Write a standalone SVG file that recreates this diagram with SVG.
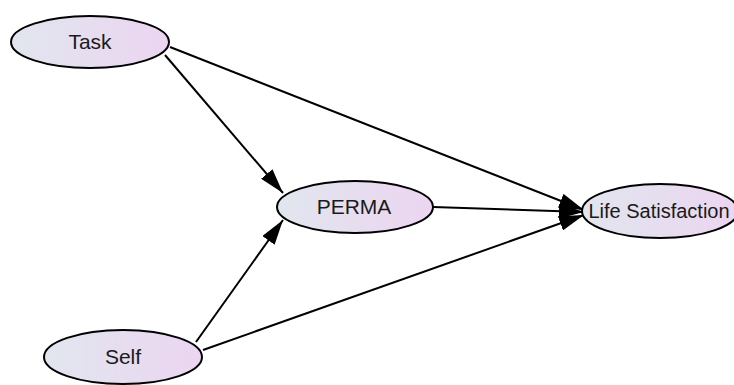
<svg xmlns="http://www.w3.org/2000/svg" width="734" height="385" viewBox="0 0 734 385">
<defs>
<linearGradient id="g" x1="0" y1="0" x2="1" y2="0">
<stop offset="0" stop-color="#e1e6ee"/>
<stop offset="1" stop-color="#ecd5f1"/>
</linearGradient>
<marker id="ah" viewBox="0 0 25 15" refX="25" refY="7.5" markerWidth="25" markerHeight="15" markerUnits="userSpaceOnUse" orient="auto">
<path d="M0,0 L25,7.5 L0,15 Z" fill="#000"/>
</marker>
</defs>
<style>
.n ellipse{fill:url(#g);stroke:#000;stroke-width:2}
.n text{font-family:"Liberation Sans",Arial,sans-serif;font-size:21px;fill:#1a1a1a;text-anchor:middle}
.e line{stroke:#000;stroke-width:2;marker-end:url(#ah)}
</style>
<g id="edges" class="e">
<line x1="165" y1="55" x2="283" y2="193"/>
<line x1="170" y1="47" x2="584" y2="210"/>
<line x1="433" y1="207" x2="584" y2="212"/>
<line x1="196" y1="342" x2="283" y2="220"/>
<line x1="203" y1="350" x2="584" y2="215"/>
</g>
<g id="task" class="n">
<ellipse cx="90" cy="42" rx="79" ry="26"/>
<text x="90" y="49">Task</text>
</g>
<g id="perma" class="n">
<ellipse cx="355" cy="207" rx="78" ry="26"/>
<text x="354" y="214">PERMA</text>
</g>
<g id="life" class="n">
<ellipse cx="660" cy="211" rx="78" ry="27"/>
<text x="659" y="218" style="font-size:20px">Life Satisfaction</text>
</g>
<g id="self" class="n">
<ellipse cx="123" cy="357" rx="79" ry="27"/>
<text x="123" y="364">Self</text>
</g>
</svg>
